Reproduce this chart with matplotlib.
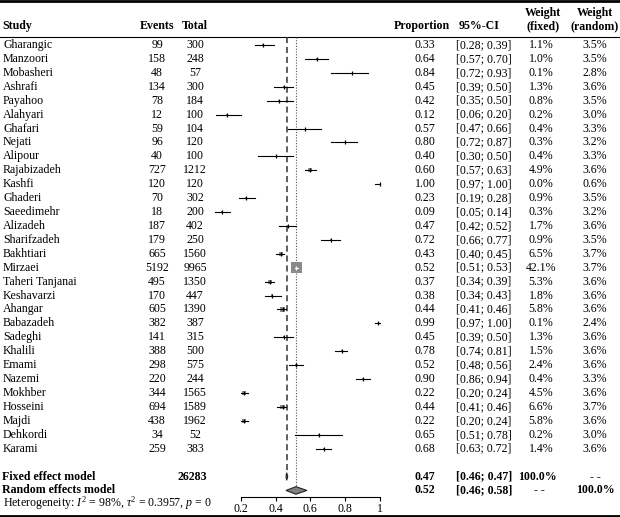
import numpy as np
import matplotlib
matplotlib.use("Agg")
import matplotlib.pyplot as plt
from matplotlib.patches import Polygon

plt.rcParams['font.family'] = ['Liberation Serif', 'DejaVu Serif']
plt.rcParams['mathtext.fontset'] = 'custom'
plt.rcParams['mathtext.rm'] = 'Liberation Serif'
plt.rcParams['mathtext.it'] = 'Liberation Serif:italic'
plt.rcParams['mathtext.bf'] = 'Liberation Serif:bold'

studies = ["Gharangic", "Manzoori", "Mobasheri", "Ashrafi", "Payahoo", "Alahyari",
           "Ghafari", "Nejati", "Alipour", "Rajabizadeh", "Kashfi", "Ghaderi",
           "Saeedimehr", "Alizadeh", "Sharifzadeh", "Bakhtiari", "Mirzaei",
           "Taheri Tanjanai", "Keshavarzi", "Ahangar", "Babazadeh", "Sadeghi",
           "Khalili", "Emami", "Nazemi", "Mokhber", "Hosseini", "Majdi",
           "Dehkordi", "Karami"]
events = [99, 158, 48, 134, 78, 12, 59, 96, 40, 727, 120, 70, 18, 187, 179, 665,
          5192, 495, 170, 605, 382, 141, 388, 298, 220, 344, 694, 438, 34, 259]
totals = [300, 248, 57, 300, 184, 100, 104, 120, 100, 1212, 120, 302, 200, 402,
          250, 1560, 9965, 1350, 447, 1390, 387, 315, 500, 575, 244, 1565, 1589,
          1962, 52, 383]
prop = [0.33, 0.64, 0.84, 0.45, 0.42, 0.12, 0.57, 0.80, 0.40, 0.60, 1.00, 0.23,
        0.09, 0.47, 0.72, 0.43, 0.52, 0.37, 0.38, 0.44, 0.99, 0.45, 0.78, 0.52,
        0.90, 0.22, 0.44, 0.22, 0.65, 0.68]
lower = [0.28, 0.57, 0.72, 0.39, 0.35, 0.06, 0.47, 0.72, 0.30, 0.57, 0.97, 0.19,
         0.05, 0.42, 0.66, 0.40, 0.51, 0.34, 0.34, 0.41, 0.97, 0.39, 0.74, 0.48,
         0.86, 0.20, 0.41, 0.20, 0.51, 0.63]
upper = [0.39, 0.70, 0.93, 0.50, 0.50, 0.20, 0.66, 0.87, 0.50, 0.63, 1.00, 0.28,
         0.14, 0.52, 0.77, 0.45, 0.53, 0.39, 0.43, 0.46, 1.00, 0.50, 0.81, 0.56,
         0.94, 0.24, 0.46, 0.24, 0.78, 0.72]
w_fixed = [1.1, 1.0, 0.1, 1.3, 0.8, 0.2, 0.4, 0.3, 0.4, 4.9, 0.0, 0.9, 0.3, 1.7,
           0.9, 6.5, 42.1, 5.3, 1.8, 5.8, 0.1, 1.3, 1.5, 2.4, 0.4, 4.5, 6.6, 5.8,
           0.2, 1.4]
w_random = [3.5, 3.5, 2.8, 3.6, 3.5, 3.0, 3.3, 3.2, 3.3, 3.6, 0.6, 3.5, 3.2, 3.6,
            3.5, 3.7, 3.7, 3.6, 3.6, 3.6, 2.4, 3.6, 3.6, 3.6, 3.3, 3.6, 3.7, 3.6,
            3.0, 3.6]

# pooled results (printed values and positions)
fixed_label, fixed_lo, fixed_hi = 0.47, 0.46, 0.47
fixed_pos = 0.464
random_label, random_lo, random_hi = 0.52, 0.46, 0.58
random_pos = 0.517
total_n = 26283
ticks = [0.2, 0.4, 0.6, 0.8, 1]

W, H = 620, 517
fig = plt.figure(figsize=(W / 100, H / 100), dpi=100)

# row geometry (pixels)
y0, dy = 45.0, 13.92
def row_lim():
    return ((H - y0) / dy, -y0 / dy)

tab = fig.add_axes([0, 0, 1, 1])
tab.set_xlim(0, W)
tab.set_ylim(*row_lim())
tab.axis('off')

# forest axes: x in proportion units
px0, pscale = 205.9, 174.1
fl, fr = 200, 385
ax = fig.add_axes([fl / W, 0, (fr - fl) / W, 1])
ax.set_xlim((fl - px0) / pscale, (fr - px0) / pscale)
ax.set_ylim(*row_lim())
ax.patch.set_alpha(0)
for s in ['top', 'left', 'right']:
    ax.spines[s].set_visible(False)
ax.set_yticks([])

fs = 8.6
n = len(studies)
r_fixed, r_random, r_het = n + 1, n + 2, n + 2.95
r_head = -1.37
r_head2 = -2.3

def bold(x, y, s, ha='center'):
    tab.text(x, y, s, fontsize=fs, fontweight='bold', va='center', ha=ha)

def plain(x, y, s, ha='center'):
    tab.text(x, y, s, fontsize=fs, va='center', ha=ha)

# header
bold(2, r_head, "Study", ha='left')
bold(157, r_head, "Events")
bold(195, r_head, "Total")
bold(422, r_head, "Proportion")
bold(479, r_head, "95%-CI")
bold(543, r_head2, "Weight")
bold(543, r_head, "(fixed)")
bold(595, r_head2, "Weight")
bold(595, r_head, "(random)")

tab.axhline((1.0 - y0) / dy, color='black', lw=2.0)
tab.axhline((37 - y0) / dy, color='black', lw=0.8)
tab.axhline((515.5 - y0) / dy, color='black', lw=2.0)

for i in range(n):
    plain(3, i, studies[i], ha='left')
    plain(157, i, str(events[i]))
    plain(195, i, str(totals[i]))
    plain(425, i, "%.2f" % prop[i])
    plain(484, i, "[%.2f; %.2f]" % (lower[i], upper[i]))
    plain(541, i, "%.1f%%" % w_fixed[i])
    plain(595, i, "%.1f%%" % w_random[i])

# summary rows
bold(2, r_fixed, "Fixed effect model", ha='left')
bold(192, r_fixed, str(total_n))
bold(425, r_fixed, "%.2f" % fixed_label)
bold(484, r_fixed, "[%.2f; %.2f]" % (fixed_lo, fixed_hi))
bold(537, r_fixed, "100.0%")
bold(595, r_fixed, "- -")

bold(2, r_random, "Random effects model", ha='left')
bold(425, r_random, "%.2f" % random_label)
bold(484, r_random, "[%.2f; %.2f]" % (random_lo, random_hi))
bold(539, r_random, "- -")
bold(595, r_random, "100.0%")

plain(3, r_het, r"Heterogeneity: $I^2$ = 98%, $\tau^2$ = 0.3957, $p$ = 0", ha='left')

# reference lines
r_top = (37 - y0) / dy
ax.plot([fixed_pos, fixed_pos], [r_top, r_fixed - 0.2], color='#333333', lw=1.1,
        ls=(0, (4, 2.5)))
ax.plot([random_pos, random_pos], [r_top, r_random - 0.2], color='#555555', lw=0.8,
        ls=(0, (1, 1.5)))

# studies
for i in range(n):
    side_px = 1.7 * np.sqrt(w_fixed[i])
    side_pt = max(side_px, 1.2) * 0.72
    ax.scatter([prop[i]], [i], marker='s', s=side_pt ** 2, color='#8a8a8a',
               edgecolors='none', zorder=2)
    inside = (upper[i] - lower[i]) * pscale < side_px
    c = 'white' if inside else 'black'
    ax.plot([lower[i], upper[i]], [i, i], color=c, lw=0.8, zorder=3)
    ax.plot([prop[i]], [i], marker='|', ms=3, mew=0.9, color=c, zorder=4)

# diamonds
dh = 0.27
ax.add_patch(Polygon([[fixed_lo, r_fixed], [fixed_pos, r_fixed - dh],
                      [fixed_hi, r_fixed], [fixed_pos, r_fixed + dh]],
                     closed=True, facecolor='#808080', edgecolor='#222222', lw=0.8, zorder=3))
ax.add_patch(Polygon([[random_lo, r_random], [random_pos, r_random - dh],
                      [random_hi, r_random], [random_pos, r_random + dh]],
                     closed=True, facecolor='#808080', edgecolor='#222222', lw=0.8, zorder=3))

# x axis
ax.spines['bottom'].set_position(('data', (496.7 - y0) / dy))
ax.spines['bottom'].set_bounds(ticks[0], ticks[-1])
ax.spines['bottom'].set_linewidth(0.8)
ax.set_xticks(ticks)
ax.set_xticklabels(["%g" % t for t in ticks], fontsize=fs)
ax.tick_params(axis='x', direction='out', length=3, width=0.8, pad=1.5)

fig.savefig("out.png", dpi=100)
